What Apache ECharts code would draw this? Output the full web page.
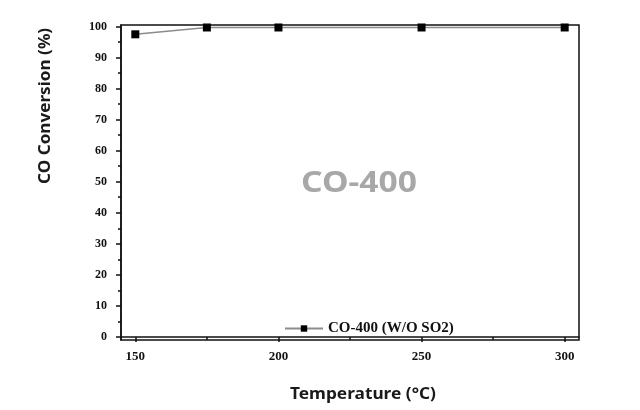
<!DOCTYPE html>
<html>
<head>
<meta charset="utf-8">
<script src="https://cdn.jsdelivr.net/npm/echarts@6/dist/echarts.min.js"></script>
<style>html,body{margin:0;padding:0;background:#fff;}#c{width:640px;height:410px;}</style>
</head>
<body>
<div id="c"></div>
<script>
const temperatures = [150, 175, 200, 250, 300];
const conversion = [97.5, 99.7, 99.7, 99.7, 99.7];
const xTicks = [150, 200, 250, 300];
const xMinorTicks = [175, 225, 275];
const yTicks = [0, 10, 20, 30, 40, 50, 60, 70, 80, 90, 100];
const yMinorTicks = [5, 15, 25, 35, 45, 55, 65, 75, 85, 95];
const seriesName = 'CO-400 (W/O SO2)';
const chartLabel = 'CO-400';
const xTitle = 'Temperature (°C)';
const yTitle = 'CO Conversion (%)';

const serif = '"Liberation Serif", "DejaVu Serif", serif';
const sans = '"Noto Sans", "Open Sans", sans-serif';
const chart = echarts.init(document.getElementById('c'));
const grid = {left: 121, top: 25, right: 61, bottom: 70, show: true, borderColor: '#111', borderWidth: 1.5};
const xMin = 145, xMax = 305, yMin = -1, yMax = 100.5;

chart.setOption({
  animation: false,
  grid: grid,
  xAxis: [{
    type: 'value', min: xMin, max: xMax, position: 'bottom',
    axisLine: {show: true, lineStyle: {color: '#111', width: 1.5}},
    axisTick: {show: true, customValues: xTicks, length: 5, lineStyle: {color: '#111', width: 1.5}},
    axisLabel: {customValues: xTicks, color: '#111', fontFamily: serif, fontWeight: 'bold', fontSize: 13, margin: 10},
    splitLine: {show: false}
  }, {
    type: 'value', min: xMin, max: xMax, position: 'bottom',
    axisLine: {show: false},
    axisTick: {show: true, customValues: xMinorTicks, length: 3, lineStyle: {color: '#111', width: 1.5}},
    axisLabel: {show: false},
    splitLine: {show: false}
  }],
  yAxis: [{
    type: 'value', min: yMin, max: yMax, position: 'left',
    axisLine: {show: true, lineStyle: {color: '#111', width: 1.5}},
    axisTick: {show: true, customValues: yTicks, length: 5, lineStyle: {color: '#111', width: 1.5}},
    axisLabel: {customValues: yTicks, color: '#111', fontFamily: serif, fontWeight: 'bold', fontSize: 12, margin: 14},
    splitLine: {show: false}
  }, {
    type: 'value', min: yMin, max: yMax, position: 'left',
    axisLine: {show: false},
    axisTick: {show: true, customValues: yMinorTicks, length: 3, lineStyle: {color: '#111', width: 1.5}},
    axisLabel: {show: false},
    splitLine: {show: false}
  }],
  legend: {
    left: 279, top: 316,
    itemWidth: 38, itemHeight: 8, itemGap: 6,
    textStyle: {color: '#111', fontFamily: serif, fontWeight: 'bold', fontSize: 15},
    data: [seriesName]
  },
  series: [{
    name: seriesName,
    type: 'line',
    xAxisIndex: 0, yAxisIndex: 0,
    data: temperatures.map((t, i) => [t, conversion[i]]),
    symbol: 'rect', symbolSize: 8,
    itemStyle: {color: '#000'},
    lineStyle: {color: '#8c8c8c', width: 1.5}
  }],
  graphic: [{
    type: 'text', x: 301, y: 170, scaleX: 1.2,
    style: {text: chartLabel, fill: '#a8a8a8', font: 'bold 28px ' + sans}
  }, {
    type: 'text', x: 290, y: 386, scaleX: 1.08,
    style: {text: xTitle, fill: '#1a1a1a', font: 'bold 16px ' + sans}
  }, {
    type: 'text', x: 37, y: 184, rotation: Math.PI / 2, scaleX: 1.07,
    style: {text: yTitle, fill: '#1a1a1a', font: 'bold 16px ' + sans, align: 'left', verticalAlign: 'top'}
  }]
});
</script>
</body>
</html>
